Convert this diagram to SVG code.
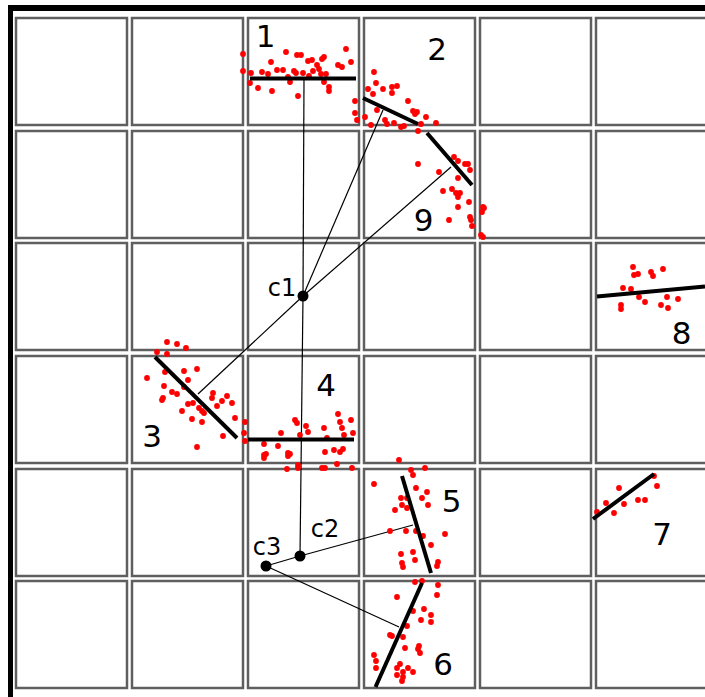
<svg xmlns="http://www.w3.org/2000/svg" width="705" height="697" viewBox="0 0 705 697">
<style>
.cell{fill:#fff;stroke:#5f5f5f;stroke-width:2.5}
.fit{stroke:#000;stroke-width:4;stroke-linecap:butt}
.con{stroke:#000;stroke-width:1.2;fill:none}
.d{fill:#ff0000}
.lbl{font-family:"DejaVu Sans",sans-serif;font-size:31px;fill:#000;text-anchor:middle}
.cl{font-family:"DejaVu Sans",sans-serif;font-size:24px;fill:#000;text-anchor:middle}
</style>
<defs><circle id="p" r="2.9" class="d"/></defs>
<rect width="705" height="697" fill="#fff"/>
<rect x="8" y="5" width="697" height="6" fill="#000"/>
<rect x="8" y="5" width="5" height="692" fill="#000"/>
<g id="grid">
<rect class="cell" x="16" y="18" width="111" height="107"/><rect class="cell" x="132" y="18" width="111" height="107"/><rect class="cell" x="248" y="18" width="111" height="107"/><rect class="cell" x="364" y="18" width="111" height="107"/><rect class="cell" x="480" y="18" width="111" height="107"/><rect class="cell" x="596" y="18" width="111" height="107"/>
<rect class="cell" x="16" y="131" width="111" height="107"/><rect class="cell" x="132" y="131" width="111" height="107"/><rect class="cell" x="248" y="131" width="111" height="107"/><rect class="cell" x="364" y="131" width="111" height="107"/><rect class="cell" x="480" y="131" width="111" height="107"/><rect class="cell" x="596" y="131" width="111" height="107"/>
<rect class="cell" x="16" y="243" width="111" height="107"/><rect class="cell" x="132" y="243" width="111" height="107"/><rect class="cell" x="248" y="243" width="111" height="107"/><rect class="cell" x="364" y="243" width="111" height="107"/><rect class="cell" x="480" y="243" width="111" height="107"/><rect class="cell" x="596" y="243" width="111" height="107"/>
<rect class="cell" x="16" y="356" width="111" height="107"/><rect class="cell" x="132" y="356" width="111" height="107"/><rect class="cell" x="248" y="356" width="111" height="107"/><rect class="cell" x="364" y="356" width="111" height="107"/><rect class="cell" x="480" y="356" width="111" height="107"/><rect class="cell" x="596" y="356" width="111" height="107"/>
<rect class="cell" x="16" y="469" width="111" height="107"/><rect class="cell" x="132" y="469" width="111" height="107"/><rect class="cell" x="248" y="469" width="111" height="107"/><rect class="cell" x="364" y="469" width="111" height="107"/><rect class="cell" x="480" y="469" width="111" height="107"/><rect class="cell" x="596" y="469" width="111" height="107"/>
<rect class="cell" x="16" y="581" width="111" height="107"/><rect class="cell" x="132" y="581" width="111" height="107"/><rect class="cell" x="248" y="581" width="111" height="107"/><rect class="cell" x="364" y="581" width="111" height="107"/><rect class="cell" x="480" y="581" width="111" height="107"/><rect class="cell" x="596" y="581" width="111" height="107"/>
</g>
<g id="connectors">
<line class="con" x1="303" y1="296" x2="304" y2="79"/>
<line class="con" x1="303" y1="296" x2="383" y2="110"/>
<line class="con" x1="303" y1="296" x2="451" y2="167"/>
<line class="con" x1="303" y1="296" x2="198" y2="394"/>
<line class="con" x1="303" y1="296" x2="300" y2="556"/>
<line class="con" x1="300" y1="556" x2="413" y2="525"/>
<line class="con" x1="300" y1="556" x2="266" y2="566"/>
<line class="con" x1="266" y1="566" x2="399" y2="627"/>
</g>
<g id="cluster-1">
<use href="#p" x="243" y="54"/><use href="#p" x="243" y="71"/><use href="#p" x="251" y="73"/><use href="#p" x="250" y="83"/><use href="#p" x="258" y="88"/><use href="#p" x="272" y="91"/><use href="#p" x="271" y="62"/><use href="#p" x="268" y="74"/><use href="#p" x="277" y="70"/><use href="#p" x="283" y="70"/><use href="#p" x="286" y="52"/><use href="#p" x="288" y="77"/><use href="#p" x="290" y="82"/><use href="#p" x="294" y="71"/><use href="#p" x="296" y="73"/><use href="#p" x="297" y="55"/><use href="#p" x="301" y="55"/><use href="#p" x="303" y="73"/><use href="#p" x="298" y="96"/><use href="#p" x="308" y="61"/><use href="#p" x="312" y="60"/><use href="#p" x="309" y="76"/><use href="#p" x="317" y="65"/><use href="#p" x="319" y="69"/><use href="#p" x="322" y="59"/><use href="#p" x="324" y="57"/><use href="#p" x="321" y="74"/><use href="#p" x="326" y="74"/><use href="#p" x="329" y="87"/><use href="#p" x="329" y="91"/><use href="#p" x="338" y="65"/><use href="#p" x="342" y="67"/><use href="#p" x="346" y="49"/><use href="#p" x="351" y="62"/><use href="#p" x="324" y="82"/><use href="#p" x="262" y="72"/><use href="#p" x="313" y="71"/>
<line class="fit" x1="250" y1="78.5" x2="356" y2="78.5"/>
<text class="lbl" x="265.5" y="47">1</text>
</g>
<g id="cluster-2">
<use href="#p" x="374" y="72"/><use href="#p" x="376" y="83"/><use href="#p" x="368" y="89"/><use href="#p" x="373" y="94"/><use href="#p" x="383" y="89"/><use href="#p" x="392" y="87"/><use href="#p" x="397" y="86"/><use href="#p" x="392" y="93"/><use href="#p" x="355" y="101"/><use href="#p" x="355" y="113"/><use href="#p" x="357" y="120"/><use href="#p" x="365" y="117"/><use href="#p" x="371" y="125"/><use href="#p" x="377" y="110"/><use href="#p" x="385" y="120"/><use href="#p" x="387" y="124"/><use href="#p" x="394" y="123"/><use href="#p" x="401" y="127"/><use href="#p" x="404" y="126"/><use href="#p" x="408" y="101"/><use href="#p" x="413" y="111"/><use href="#p" x="417" y="112"/><use href="#p" x="415" y="114"/><use href="#p" x="426" y="117"/><use href="#p" x="421" y="124"/><use href="#p" x="418" y="131"/><use href="#p" x="436" y="123"/>
<line class="fit" x1="363" y1="98" x2="418" y2="124"/>
<text class="lbl" x="437" y="60">2</text>
</g>
<g id="cluster-9">
<use href="#p" x="418" y="164"/><use href="#p" x="439" y="172"/><use href="#p" x="454" y="157"/><use href="#p" x="458" y="161"/><use href="#p" x="465" y="164"/><use href="#p" x="468" y="164"/><use href="#p" x="470" y="170"/><use href="#p" x="458" y="178"/><use href="#p" x="443" y="191"/><use href="#p" x="452" y="189"/><use href="#p" x="456" y="193"/><use href="#p" x="460" y="193"/><use href="#p" x="458" y="197"/><use href="#p" x="469" y="202"/><use href="#p" x="458" y="207"/><use href="#p" x="483" y="207"/><use href="#p" x="484" y="208"/><use href="#p" x="482" y="212"/><use href="#p" x="470" y="217"/><use href="#p" x="471" y="220"/><use href="#p" x="449" y="220"/><use href="#p" x="472" y="226"/><use href="#p" x="481" y="235"/><use href="#p" x="483" y="237"/>
<line class="fit" x1="427" y1="133" x2="472" y2="185"/>
<text class="lbl" x="423.5" y="231">9</text>
</g>
<g id="cluster-3">
<use href="#p" x="167" y="342"/><use href="#p" x="177" y="344"/><use href="#p" x="186" y="348"/><use href="#p" x="157" y="352"/><use href="#p" x="167" y="354"/><use href="#p" x="147" y="378"/><use href="#p" x="165" y="372"/><use href="#p" x="184" y="371"/><use href="#p" x="197" y="369"/><use href="#p" x="188" y="380"/><use href="#p" x="164" y="386"/><use href="#p" x="172" y="392"/><use href="#p" x="177" y="394"/><use href="#p" x="184" y="387"/><use href="#p" x="163" y="398"/><use href="#p" x="162" y="400"/><use href="#p" x="188" y="404"/><use href="#p" x="193" y="403"/><use href="#p" x="182" y="411"/><use href="#p" x="199" y="408"/><use href="#p" x="202" y="411"/><use href="#p" x="204" y="413"/><use href="#p" x="192" y="419"/><use href="#p" x="202" y="422"/><use href="#p" x="213" y="393"/><use href="#p" x="212" y="398"/><use href="#p" x="217" y="406"/><use href="#p" x="222" y="401"/><use href="#p" x="227" y="396"/><use href="#p" x="232" y="403"/><use href="#p" x="235" y="418"/><use href="#p" x="223" y="436"/><use href="#p" x="197" y="447"/>
<line class="fit" x1="155" y1="357" x2="237" y2="438"/>
<text class="lbl" x="152" y="447">3</text>
</g>
<g id="cluster-4">
<use href="#p" x="245" y="422"/><use href="#p" x="244" y="433"/><use href="#p" x="245" y="441"/><use href="#p" x="295" y="420"/><use href="#p" x="297" y="423"/><use href="#p" x="306" y="426"/><use href="#p" x="308" y="432"/><use href="#p" x="281" y="433"/><use href="#p" x="300" y="435"/><use href="#p" x="324" y="428"/><use href="#p" x="338" y="414"/><use href="#p" x="340" y="422"/><use href="#p" x="351" y="420"/><use href="#p" x="342" y="428"/><use href="#p" x="344" y="435"/><use href="#p" x="353" y="433"/><use href="#p" x="327" y="438"/><use href="#p" x="264" y="444"/><use href="#p" x="278" y="446"/><use href="#p" x="266" y="454"/><use href="#p" x="264" y="458"/><use href="#p" x="288" y="453"/><use href="#p" x="290" y="454"/><use href="#p" x="288" y="456"/><use href="#p" x="325" y="452"/><use href="#p" x="334" y="450"/><use href="#p" x="340" y="452"/><use href="#p" x="343" y="449"/><use href="#p" x="337" y="464"/><use href="#p" x="322" y="468"/><use href="#p" x="325" y="468"/><use href="#p" x="352" y="468"/><use href="#p" x="298" y="465"/><use href="#p" x="298" y="468"/><use href="#p" x="287" y="469"/><use href="#p" x="264" y="455"/>
<line class="fit" x1="248" y1="439.5" x2="354" y2="439.5"/>
<text class="lbl" x="326" y="396">4</text>
</g>
<g id="cluster-5">
<use href="#p" x="399" y="460"/><use href="#p" x="411" y="470"/><use href="#p" x="413" y="475"/><use href="#p" x="425" y="468"/><use href="#p" x="374" y="484"/><use href="#p" x="416" y="488"/><use href="#p" x="427" y="492"/><use href="#p" x="401" y="498"/><use href="#p" x="407" y="498"/><use href="#p" x="422" y="498"/><use href="#p" x="402" y="505"/><use href="#p" x="428" y="505"/><use href="#p" x="395" y="510"/><use href="#p" x="407" y="508"/><use href="#p" x="390" y="531"/><use href="#p" x="406" y="531"/><use href="#p" x="416" y="531"/><use href="#p" x="423" y="536"/><use href="#p" x="431" y="545"/><use href="#p" x="445" y="534"/><use href="#p" x="401" y="554"/><use href="#p" x="413" y="552"/><use href="#p" x="415" y="560"/><use href="#p" x="402" y="563"/><use href="#p" x="403" y="567"/><use href="#p" x="438" y="562"/><use href="#p" x="437" y="566"/>
<line class="fit" x1="402" y1="476" x2="431" y2="573"/>
<text class="lbl" x="451.5" y="512">5</text>
</g>
<g id="cluster-6">
<use href="#p" x="415" y="582"/><use href="#p" x="422" y="581"/><use href="#p" x="438" y="585"/><use href="#p" x="437" y="595"/><use href="#p" x="397" y="597"/><use href="#p" x="424" y="609"/><use href="#p" x="413" y="611"/><use href="#p" x="431" y="615"/><use href="#p" x="421" y="620"/><use href="#p" x="431" y="622"/><use href="#p" x="407" y="626"/><use href="#p" x="390" y="635"/><use href="#p" x="392" y="636"/><use href="#p" x="403" y="637"/><use href="#p" x="405" y="648"/><use href="#p" x="419" y="646"/><use href="#p" x="420" y="653"/><use href="#p" x="374" y="655"/><use href="#p" x="376" y="661"/><use href="#p" x="376" y="668"/><use href="#p" x="400" y="664"/><use href="#p" x="397" y="668"/><use href="#p" x="408" y="668"/><use href="#p" x="403" y="672"/><use href="#p" x="413" y="672"/><use href="#p" x="397" y="675"/><use href="#p" x="403" y="677"/><use href="#p" x="402" y="681"/><use href="#p" x="418" y="649"/>
<line class="fit" x1="422" y1="583" x2="375.5" y2="687"/>
<text class="lbl" x="443" y="675">6</text>
</g>
<g id="cluster-8">
<use href="#p" x="633" y="267"/><use href="#p" x="634" y="275"/><use href="#p" x="638" y="274"/><use href="#p" x="651" y="272"/><use href="#p" x="653" y="276"/><use href="#p" x="663" y="269"/><use href="#p" x="623" y="288"/><use href="#p" x="631" y="289"/><use href="#p" x="639" y="297"/><use href="#p" x="645" y="302"/><use href="#p" x="621" y="305"/><use href="#p" x="621" y="309"/><use href="#p" x="661" y="305"/><use href="#p" x="667" y="297"/><use href="#p" x="668" y="308"/><use href="#p" x="678" y="299"/>
<line class="fit" x1="597" y1="296.5" x2="705" y2="286.5"/>
<text class="lbl" x="681.5" y="344">8</text>
</g>
<g id="cluster-7">
<use href="#p" x="597" y="512"/><use href="#p" x="606" y="503"/><use href="#p" x="619" y="488"/><use href="#p" x="614" y="513"/><use href="#p" x="624" y="504"/><use href="#p" x="638" y="500"/><use href="#p" x="645" y="500"/><use href="#p" x="654" y="476"/><use href="#p" x="657" y="486"/>
<line class="fit" x1="593" y1="519" x2="654" y2="474"/>
<text class="lbl" x="662" y="545">7</text>
</g>
<g id="c1"><circle cx="303" cy="296" r="5.5" fill="#000"/><text class="cl" x="282" y="296">c1</text></g>
<g id="c2"><circle cx="300" cy="556" r="5.5" fill="#000"/><text class="cl" x="325" y="537">c2</text></g>
<g id="c3"><circle cx="266" cy="566" r="5.5" fill="#000"/><text class="cl" x="267" y="555">c3</text></g>
</svg>
